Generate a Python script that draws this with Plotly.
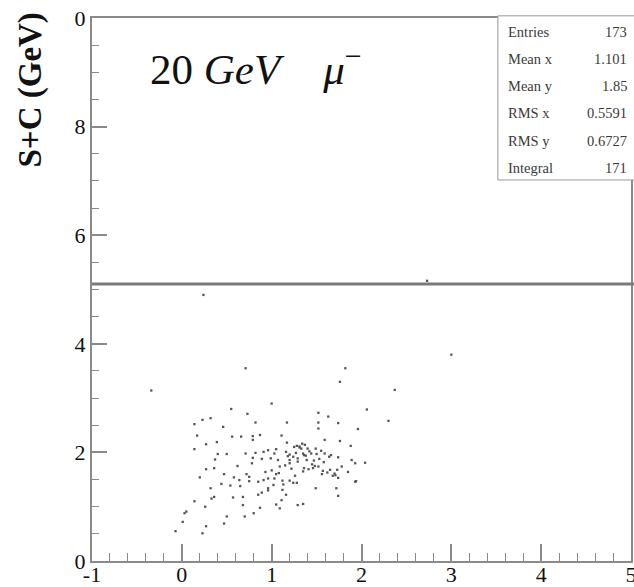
import plotly.graph_objects as go

# Scatter data (energy fraction vs S+C)
x_vals = [-0.34, 0.71, 1.82, 1.76, 2.37, 1.00, 0.55, 0.73, 0.14, 0.23,
          0.32, 0.46, 0.82, 1.17, 1.52, 1.63, 1.52, 1.52, 1.74, 2.06,
          1.96, 2.30, 0.17, 0.27, 0.14, 0.39, 0.56, 0.66, 0.79, 0.87,
          0.79, 1.11, 1.17, 1.59, 1.76, 1.88, 0.40, 0.50, 0.71, 0.82,
          0.79, 0.89, 0.78, 1.03, 1.05, 0.99, 1.07, 1.09, 1.16, 1.20,
          1.20, 1.24, 1.20, 1.28, 1.31, 1.33, 1.37, 1.40, 1.35, 1.29,
          1.29, 1.39, 1.44, 1.49, 1.50, 1.53, 1.59, 1.64, 1.74, 1.52,
          1.46, 1.36, 1.35, 1.48, 1.56, 1.65, 1.70, 1.73, 1.78, 1.89,
          1.93, 2.04, 1.93, 1.71, 1.49, 1.72, 1.74, 0.20, 0.27, 0.36,
          0.47, 0.58, 0.64, 0.75, 0.75, 0.85, 0.91, 0.96, 1.03, 1.12,
          1.20, 1.24, 1.28, 1.05, 0.54, 0.65, 0.32, 0.36, 0.33, 0.68,
          0.85, 0.89, 0.96, 0.96, 1.02, 1.12, 1.16, 1.11, 1.05, 1.09,
          1.29, 1.35, 0.87, 0.80, 0.70, 0.68, 0.14, 0.05, 0.03, 0.26,
          0.01, -0.07, 0.27, 0.23, 0.50, 0.47, 0.57, 0.37, 0.91, 0.96,
          1.74, 1.94, 0.24, 2.73, 3.00, 1.31, 1.42, 1.25, 1.18, 1.57,
          1.62, 1.45, 1.38, 1.22, 1.08, 0.93, 1.55, 1.68, 1.34, 1.27,
          1.47, 1.15, 0.62, 0.44, 1.85, 1.41, 1.26, 1.58, 1.66, 1.13,
          1.00, 0.72, 1.36]
y_vals = [3.14, 3.55, 3.55, 3.30, 3.15, 2.90, 2.80, 2.71, 2.52, 2.60,
          2.63, 2.47, 2.55, 2.55, 2.73, 2.66, 2.55, 2.44, 2.54, 2.79,
          2.43, 2.58, 2.31, 2.15, 2.06, 2.19, 2.29, 2.29, 2.30, 2.32,
          2.23, 2.31, 2.18, 2.23, 2.21, 2.12, 1.97, 1.97, 1.98, 1.99,
          1.90, 1.88, 1.80, 1.98, 2.06, 1.89, 1.86, 1.74, 2.01, 1.96,
          1.86, 1.92, 1.80, 2.12, 2.09, 2.07, 2.14, 2.07, 1.98, 1.89,
          1.83, 1.86, 1.98, 2.07, 1.97, 1.88, 1.98, 1.92, 1.91, 1.74,
          1.71, 1.71, 1.65, 1.75, 1.60, 1.68, 1.61, 1.68, 1.74, 1.86,
          1.80, 1.81, 1.46, 1.58, 1.34, 1.34, 1.20, 1.54, 1.69, 1.71,
          1.60, 1.54, 1.49, 1.55, 1.47, 1.46, 1.49, 1.52, 1.52, 1.48,
          1.48, 1.44, 1.44, 1.60, 1.39, 1.38, 1.34, 1.18, 1.15, 1.18,
          1.22, 1.26, 1.30, 1.34, 1.40, 1.31, 1.22, 1.12, 1.04, 0.97,
          1.03, 1.05, 0.98, 0.88, 0.82, 1.03, 1.10, 0.91, 0.88, 1.00,
          0.72, 0.55, 0.64, 0.51, 0.82, 0.69, 1.17, 1.87, 2.01, 2.04,
          1.53, 1.47, 4.90, 5.16, 3.80, 2.11, 2.02, 2.10, 1.93, 1.66,
          1.63, 1.78, 1.94, 1.70, 1.62, 1.64, 2.03, 1.57, 2.16, 1.99,
          1.85, 1.76, 1.75, 1.42, 1.64, 1.69, 1.57, 1.82, 1.95, 1.41,
          1.67, 1.60, 1.95]

y_tickvals = [0, 2, 4, 6, 8, 10]
y_ticktext = ["0", "2", "4", "6", "8", "0"]
x_tickvals = [-1, 0, 1, 2, 3, 4, 5]
x_ticktext = ["-1", "0", "1", "2", "3", "4", "5"]

cut_level = 5.1

stat_labels = ["Entries", "Mean x", "Mean y", "RMS x", "RMS y", "Integral"]
stat_values = ["173", "1.101", "1.85", "0.5591", "0.6727", "171"]

SERIF = "Liberation Serif, Times New Roman, serif"
AXC = "#8a8a8a"

fig = go.Figure()
fig.add_trace(go.Scatter(
    x=x_vals, y=y_vals, mode="markers",
    marker=dict(symbol="square", size=2.3, color="#555555", line=dict(width=0)),
    showlegend=False, hoverinfo="skip",
))

fig.add_shape(type="line", xref="paper", yref="y", x0=0, x1=1.01,
              y0=cut_level, y1=cut_level, line=dict(color="#7a7a7a", width=3))

# Stats box
fig.add_shape(type="rect", xref="paper", yref="paper", x0=0.753, x1=1.02,
              y0=0.7017, y1=1.004, line=dict(color="#9a9a9a", width=1),
              fillcolor="white", layer="above")
row_px = [32, 59, 86, 113, 141, 168]
for lab, val, py in zip(stat_labels, stat_values, row_px):
    yp = (561 - py) / 543
    fig.add_annotation(xref="paper", yref="paper", x=0.768, y=yp, text=lab,
                       showarrow=False, xanchor="left", yanchor="middle",
                       font=dict(family=SERIF, size=14.5, color="#3a3a3a"))
    fig.add_annotation(xref="paper", yref="paper", x=0.996, y=yp, text=val,
                       showarrow=False, xanchor="right", yanchor="middle",
                       font=dict(family=SERIF, size=14.5, color="#3a3a3a"))

# Title inside plot
fig.add_annotation(xref="paper", yref="paper", x=(148 - 92) / 539, y=(561 - 66) / 543,
                   text="20 <i>GeV</i>&nbsp;&nbsp;&nbsp;&nbsp;<i>μ</i><sup>−</sup>", showarrow=False,
                   xanchor="left", yanchor="middle",
                   font=dict(family=SERIF, size=43, color="#111111"))

# Y axis title
fig.add_annotation(xref="paper", yref="paper", x=(30 - 92) / 539, y=(561 - 11) / 543,
                   text="<b>S+C (GeV)</b>", textangle=-90, showarrow=False,
                   xanchor="center", yanchor="top",
                   font=dict(family=SERIF, size=33, color="#111111"))

fig.update_layout(
    width=634, height=587,
    margin=dict(l=92, r=3, t=18, b=26),
    paper_bgcolor="white", plot_bgcolor="white",
    template="none",
    xaxis=dict(range=[-1, 5], tickvals=x_tickvals, ticktext=x_ticktext,
               ticks="inside", ticklen=17, tickwidth=1.5, tickcolor=AXC,
               minor=dict(dtick=0.2, ticks="inside", ticklen=8, tickwidth=1.2,
                          tickcolor=AXC, showgrid=False),
               showline=True, linecolor=AXC, linewidth=2, mirror=True,
               showgrid=False, zeroline=False, automargin=False,
               ticklabelstandoff=-7, ticklabeloverflow="allow",
               tickfont=dict(family=SERIF, size=22, color="#111111")),
    yaxis=dict(range=[0, 10], tickvals=y_tickvals, ticktext=y_ticktext,
               ticks="inside", ticklen=15, tickwidth=1.5, tickcolor=AXC,
               minor=dict(dtick=0.5, ticks="inside", ticklen=7, tickwidth=1.2,
                          tickcolor=AXC, showgrid=False),
               showline=True, linecolor=AXC, linewidth=2, mirror=True,
               showgrid=False, zeroline=False, automargin=False,
               ticklabeloverflow="allow",
               tickfont=dict(family=SERIF, size=22, color="#111111")),
)

fig.write_html("out.html")
